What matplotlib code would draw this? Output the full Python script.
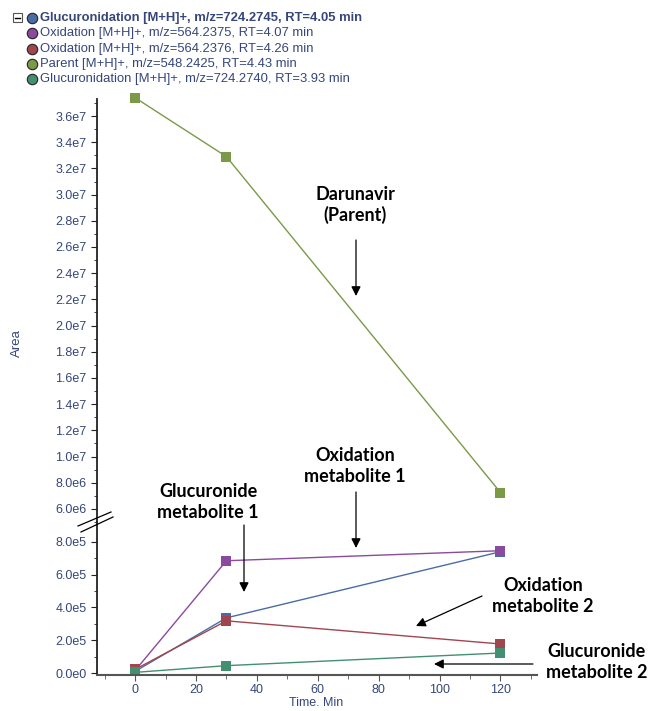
import matplotlib
matplotlib.use('Agg')
import matplotlib.pyplot as plt
from matplotlib.lines import Line2D
from matplotlib.ticker import FuncFormatter, MultipleLocator

# --- dados ---
tempo = [0, 30, 120]
gluc_405 = [1.0e4, 3.36e5, 7.39e5]
oxid_407 = [1.5e4, 6.84e5, 7.45e5]
oxid_426 = [2.2e4, 3.18e5, 1.77e5]
parent_443 = [3.74e7, 3.29e7, 7.25e6]
gluc_393 = [4.0e3, 4.5e4, 1.22e5]

series = [
    ('Glucuronidation [M+H]+, m/z=724.2745, RT=4.05 min', gluc_405, '#4a6ca6'),
    ('Oxidation [M+H]+, m/z=564.2375, RT=4.07 min', oxid_407, '#8a4a9e'),
    ('Oxidation [M+H]+, m/z=564.2376, RT=4.26 min', oxid_426, '#a0464f'),
    ('Parent [M+H]+, m/z=548.2425, RT=4.43 min', parent_443, '#7a9a48'),
    ('Glucuronidation [M+H]+, m/z=724.2740, RT=3.93 min', gluc_393, '#439070'),
]

W, H = 649, 711
navy = '#35467a'
plt.rcParams['font.family'] = ['Liberation Sans', 'DejaVu Sans']

fig = plt.figure(figsize=(W / 100, H / 100), dpi=100)

def fx(px):
    return px / W

def fy(py):
    return 1 - py / H

left, right = 97, 537
top, brk, bottom = 99, 522, 675
ax_up = fig.add_axes([fx(left), fy(brk), fx(right - left), fy(top) - fy(brk)])
ax_lo = fig.add_axes([fx(left), fy(bottom), fx(right - left), fy(brk) - fy(bottom)], sharex=ax_up)

def fmt_sci(v, pos):
    if v == 0:
        return '0.0e0'
    s = f'{v:.1e}'
    m, e = s.split('e')
    return f'{m}e{int(e)}'

for ax in (ax_up, ax_lo):
    for nome, vals, cor in series:
        ax.plot(tempo, vals, color=cor, lw=1.0, marker='s', markersize=7.5,
                markeredgewidth=0, clip_on=(ax is ax_lo))
    ax.spines['top'].set_visible(False)
    ax.spines['right'].set_visible(False)
    ax.spines['left'].set_color('#222222')
    ax.spines['left'].set_linewidth(1.3)
    ax.yaxis.set_major_formatter(FuncFormatter(fmt_sci))
    ax.tick_params(axis='y', which='major', direction='out', length=4, colors='#222222',
                   labelcolor=navy, labelsize=9)
    ax.tick_params(axis='y', which='minor', direction='out', length=2.5, colors='#222222')
    ax.set_facecolor('none')

ax_up.set_ylim(5.0e6, 3.73e7)
ax_up.yaxis.set_major_locator(MultipleLocator(2e6))
ax_up.yaxis.set_minor_locator(MultipleLocator(1e6))
ax_up.spines['bottom'].set_visible(False)
ax_up.tick_params(axis='x', which='both', bottom=False, labelbottom=False)
# no eixo de cima so o parent, no de baixo so os metabolitos
for ln in ax_up.lines[:3] + ax_up.lines[4:]:
    ln.set_visible(False)
ax_lo.lines[3].set_visible(False)

ax_lo.set_ylim(-1.2e4, 9.2e5)
ax_lo.yaxis.set_major_locator(MultipleLocator(2e5))
ax_lo.yaxis.set_minor_locator(MultipleLocator(1e5))
ax_lo.set_xlim(-12.5, 132)
ax_lo.xaxis.set_major_locator(MultipleLocator(20))
ax_lo.xaxis.set_minor_locator(MultipleLocator(10))
ax_lo.spines['bottom'].set_color('#555555')
ax_lo.spines['bottom'].set_linewidth(1.5)
ax_lo.tick_params(axis='x', which='major', direction='out', length=4, colors='#555555',
                  labelcolor=navy, labelsize=9, pad=2.5)
ax_lo.tick_params(axis='x', which='minor', direction='out', length=3, colors='#555555')

fig.text(fx(316), fy(703.5), 'Time. Min', color=navy, fontsize=9,
         ha='center', va='center')
fig.text(fx(17), fy(343), 'Area', rotation=90, color=navy, fontsize=9.5,
         ha='center', va='center')

# marcas de quebra do eixo
for (x0, y0, x1, y1) in [(78, 526, 111, 512), (81, 532, 113, 517)]:
    fig.add_artist(Line2D([fx(x0), fx(x1)], [fy(y0), fy(y1)], color='black', lw=0.9))

# legenda manual
fig.add_artist(plt.Rectangle((fx(13), fy(22)), fx(9), fy(13) - fy(22), fill=False,
                             edgecolor='#555555', lw=0.8))
fig.add_artist(Line2D([fx(15), fx(20)], [fy(17.5), fy(17.5)], color='black', lw=1))
for i, (nome, vals, cor) in enumerate(series):
    yy = fy(18 + 15.3 * i)
    fig.add_artist(Line2D([fx(32)], [yy], marker='o', markersize=7.5, color=cor,
                          markeredgecolor='#222222', markeredgewidth=0.8))
    fig.text(fx(40), yy, nome, color=navy, fontsize=9.4, va='center', ha='left',
             fontweight='bold' if i == 0 else 'normal')

# anotacoes
anot = dict(family=['Lato', 'DejaVu Sans'], fontweight='bold', fontsize=13,
            ha='center', va='center', linespacing=1.25)
fig.text(fx(355), fy(205), 'Darunavir\n(Parent)', **anot)
fig.text(fx(355), fy(466), 'Oxidation\nmetabolite 1', **anot)
fig.text(fx(208), fy(502), 'Glucuronide\nmetabolite 1', **anot)
fig.text(fx(543), fy(596), 'Oxidation\nmetabolite 2', **anot)
fig.text(fx(597), fy(662), 'Glucuronide\nmetabolite 2', **anot)

setas = [((356, 240), (356, 296)), ((356, 492), (356, 548)), ((244, 525), (244, 592)),
         ((482, 596), (416, 626)), ((533, 664), (434, 664))]
for (x0, y0), (x1, y1) in setas:
    fig.add_artist(matplotlib.patches.FancyArrowPatch(
        (fx(x0), fy(y0)), (fx(x1), fy(y1)), transform=fig.transFigure,
        arrowstyle='-|>', mutation_scale=14, color='black', lw=0.9, shrinkA=0, shrinkB=0))

plt.savefig('out.png', dpi=100)
